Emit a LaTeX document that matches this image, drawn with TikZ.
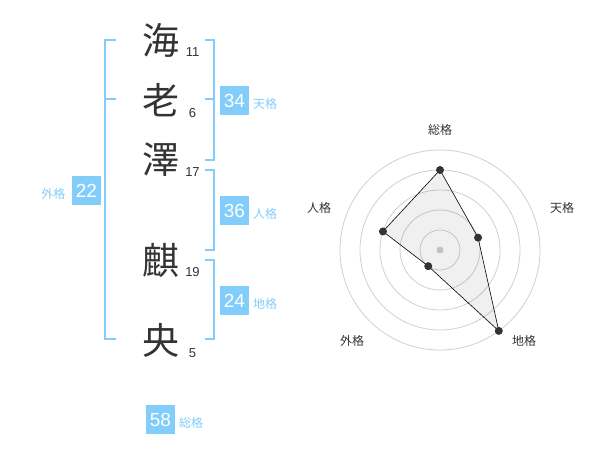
\documentclass[tikz,border=0pt]{standalone}
\usepackage{fontspec}
\setmainfont{Liberation Sans}
\newfontfamily\jpfont{Noto Sans CJK JP}
\usetikzlibrary{positioning}
\definecolor{kakublue}{RGB}{130,205,250}
\definecolor{kakudark}{RGB}{51,51,51}
\definecolor{kakugrid}{RGB}{208,208,208}
\tikzset{
  bracket/.style={line width=2pt, kakublue},
  kanji/.style={font=\jpfont\fontsize{37}{40}\selectfont, text=kakudark, inner sep=0pt},
  strokes/.style={font=\fontsize{13}{14}\selectfont, text=kakudark, inner sep=0pt},
  numbox/.style={fill=kakublue, text=white, minimum size=29pt, inner sep=0pt, font=\fontsize{19}{20}\selectfont},
  kakulabel/.style={font=\jpfont\fontsize{12}{13}\selectfont, text=kakublue, inner sep=0pt},
  radarlabel/.style={font=\jpfont\fontsize{12}{13}\selectfont, text=kakudark, inner sep=0pt}
}
\begin{document}
\begin{tikzpicture}[x=1pt,y=-1pt]
\useasboundingbox (0,0) rectangle (600,470);
% brackets
\draw [bracket] (116,40) -- (105,40) -- (105,339) -- (116,339);
\draw [bracket] (105,99) -- (116,99);
\draw [bracket] (205,40) -- (214,40) -- (214,160) -- (205,160);
\draw [bracket] (214,99) -- (205,99);
\draw [bracket] (205,170) -- (214,170) -- (214,250) -- (205,250);
\draw [bracket] (205,260) -- (214,260) -- (214,339) -- (205,339);
% name
\node [kanji] (k1) at (160.5,40) {海};
\node [kanji] (k2) at (160.5,100) {老};
\node [kanji] (k3) at (160.5,160) {澤};
\node [kanji] (k4) at (160.5,260) {麒};
\node [kanji] (k5) at (160.5,340) {央};
\node [strokes] (s1) at (192.5,52.5) {11};
\node [strokes] (s2) at (192.5,113) {6};
\node [strokes] (s3) at (192.5,172.5) {17};
\node [strokes] (s4) at (192.5,272.5) {19};
\node [strokes] (s5) at (192.5,353) {5};
% scores
\node [numbox] (tenbox) at (234.5,100.5) {34};
\node [kakulabel, anchor=west] (tenlab) at (253,104) {天格};
\node [numbox] (jinbox) at (234.5,210.5) {36};
\node [kakulabel, anchor=west] (jinlab) at (253,214) {人格};
\node [numbox] (chibox) at (234.5,300.5) {24};
\node [kakulabel, anchor=west] (chilab) at (253,304) {地格};
\node [numbox] (gaibox) at (86.5,190.5) {22};
\node [kakulabel, anchor=east] (gailab) at (65.5,193.5) {外格};
\node [numbox] (soubox) at (160.5,419.5) {58};
\node [kakulabel, anchor=west] (soulab) at (179,423) {総格};
% radar
\begin{scope}[shift={(440,250)}, y=1pt]
\foreach \r in {20,40,60,80,100}
  \draw [kakugrid, line width=0.8pt] (0,0) circle (\r);
\fill [kakugrid] (0,0) circle (3.5);
\coordinate (sou) at (90:80);
\coordinate (ten) at (18:40);
\coordinate (chi) at (-54:100);
\coordinate (gai) at (-126:20);
\coordinate (jin) at (162:60);
\draw [black, line width=0.6pt, fill=black, fill opacity=0.06] (sou) -- (ten) -- (chi) -- (gai) -- (jin) -- cycle;
\foreach \p in {sou,ten,chi,gai,jin}
  \fill [kakudark] (\p) circle (4);
\node [radarlabel] (lsou) at (0,120) {総格};
\node [radarlabel] (lten) at (122,42) {天格};
\node [radarlabel] (lchi) at (84,-91) {地格};
\node [radarlabel] (lgai) at (-88,-91) {外格};
\node [radarlabel] (ljin) at (-121,42) {人格};
\end{scope}
\end{tikzpicture}
\end{document}
